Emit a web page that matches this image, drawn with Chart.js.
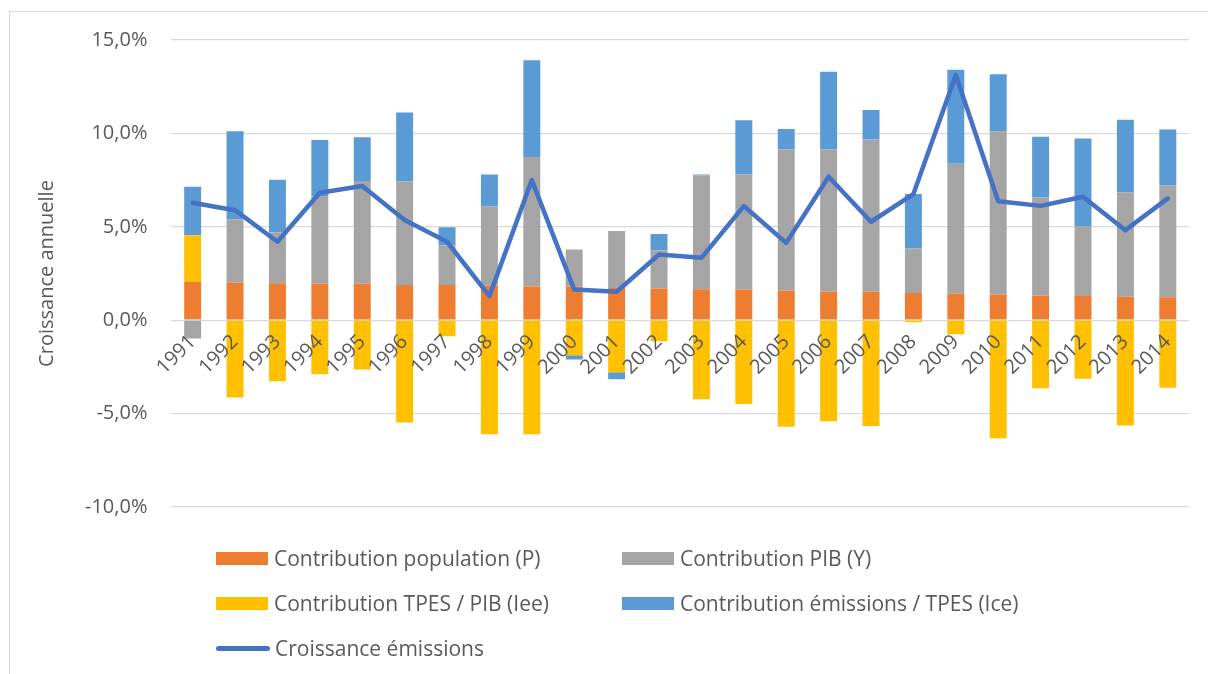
<!DOCTYPE html>
<html>
<head>
<meta charset="utf-8">
<script src="https://cdn.jsdelivr.net/npm/chart.js@4/dist/chart.umd.min.js"></script>
<style>
  body { margin: 0; background: #fff; font-family: "Open Sans", sans-serif; }
  #wrap { position: relative; width: 1208px; height: 674px; overflow: hidden; }
  #frame { position: absolute; left: 9px; top: 11px; width: 1300px; height: 800px; border: 1px solid #d9d9d9; }
  #chart { position: absolute; left: 0; top: 0; }
  #legend { position: absolute; left: 216px; top: 544px; width: 900px; }
  .item { position: absolute; display: flex; align-items: center; font-size: 21px; color: #595959; white-space: nowrap; height: 28px; }
  .swatch { width: 52px; height: 13px; margin-right: 6px; }
  .lineSwatch { width: 54px; height: 5px; border-radius: 3px; margin-right: 5px; }
</style>
</head>
<body>
<div id="wrap">
  <div id="frame"></div>
  <canvas id="chart" width="1208" height="674"></canvas>
  <div id="legend"></div>
</div>
<script>
const years = ["1991","1992","1993","1994","1995","1996","1997","1998","1999","2000","2001","2002",
  "2003","2004","2005","2006","2007","2008","2009","2010","2011","2012","2013","2014"];

// contributions in % points
const popContrib = [2.05, 2.0, 1.98, 1.95, 1.95, 1.89, 1.88, 1.84, 1.80, 1.79, 1.73, 1.70,
  1.66, 1.64, 1.57, 1.52, 1.52, 1.46, 1.41, 1.36, 1.32, 1.29, 1.25, 1.23];
const pibContrib = [-0.98, 3.41, 2.72, 4.66, 5.50, 5.54, 2.12, 4.25, 6.93, 2.00, 3.04, 2.05,
  6.09, 6.16, 7.57, 7.62, 8.16, 2.38, 6.97, 8.76, 5.25, 3.75, 5.59, 6.00];
const ieeContrib = [2.50, -4.14, -3.27, -2.89, -2.64, -5.48, -0.86, -6.11, -6.11, -1.88, -2.79, -1.13,
  -4.23, -4.48, -5.71, -5.41, -5.66, -0.11, -0.75, -6.32, -3.64, -3.13, -5.64, -3.61];
const iceContrib = [2.59, 4.71, 2.82, 3.03, 2.35, 3.69, 0.98, 1.71, 5.18, -0.23, -0.37, 0.86,
  0.05, 2.91, 1.09, 4.16, 1.57, 2.91, 5.03, 3.04, 3.25, 4.69, 3.89, 2.98];
const emissionsGrowth = [6.29, 5.89, 4.20, 6.82, 7.18, 5.36, 4.20, 1.29, 7.50, 1.64, 1.52, 3.52,
  3.34, 6.11, 4.14, 7.68, 5.27, 6.75, 13.13, 6.37, 6.12, 6.61, 4.82, 6.52];

const yTicks = [-10, -5, 0, 5, 10, 15];

const textColor = "#595959";
const fmt = v => v.toFixed(1).replace(".", ",") + "%";

const barCommon = { type: "bar", stack: "contrib", order: 1, categoryPercentage: 1, barPercentage: 0.4 };

const chart = new Chart(document.getElementById("chart"), {
  data: {
    labels: years,
    datasets: [
      { ...barCommon, label: "Contribution population (P)", data: popContrib, backgroundColor: "#ed7d31" },
      { ...barCommon, label: "Contribution PIB (Y)", data: pibContrib, backgroundColor: "#a5a5a5" },
      { ...barCommon, label: "Contribution TPES / PIB (Iee)", data: ieeContrib, backgroundColor: "#ffc000" },
      { ...barCommon, label: "Contribution émissions / TPES (Ice)", data: iceContrib, backgroundColor: "#5b9bd5" },
      {
        type: "line", stack: "line", order: 0, label: "Croissance émissions", data: emissionsGrowth,
        borderColor: "#4472c4", borderWidth: 4.5, pointRadius: 0, tension: 0,
        borderJoinStyle: "round", borderCapStyle: "round", fill: false
      }
    ]
  },
  options: {
    responsive: false,
    animation: false,
    layout: { padding: { left: 23, top: 40, right: 19, bottom: 167 } },
    plugins: { legend: { display: false }, tooltip: { enabled: false } },
    scales: {
      x: {
        position: { y: 0 },
        stacked: true,
        grid: { display: false },
        border: { display: false },
        ticks: {
          z: 1, autoSkip: false, minRotation: 45, maxRotation: 45, padding: 2,
          color: textColor, font: { family: "Open Sans", size: 20 }
        }
      },
      y: {
        stacked: true,
        min: -10, max: 15,
        afterBuildTicks: axis => { axis.ticks = yTicks.map(v => ({ value: v })); },
        grid: { color: "#d9d9d9", lineWidth: 1.3, drawTicks: false },
        border: { display: false },
        ticks: { padding: 24, color: textColor, font: { family: "Open Sans", size: 20 }, callback: v => fmt(v) },
        title: {
          display: true, text: "Croissance annuelle", color: textColor,
          font: { family: "Open Sans", size: 20 }, padding: { top: 12, bottom: 2 }
        }
      }
    }
  }
});

// legend in two columns, like the original
const legend = document.getElementById("legend");
chart.data.datasets.forEach((ds, i) => {
  const item = document.createElement("div");
  item.className = "item";
  item.style.left = (i % 2 ? 406 : 0) + "px";
  item.style.top = Math.floor(i / 2) * 45 + "px";
  const sw = document.createElement("span");
  if (ds.type === "line") {
    sw.className = "lineSwatch";
    sw.style.background = ds.borderColor;
  } else {
    sw.className = "swatch";
    sw.style.background = ds.backgroundColor;
  }
  item.appendChild(sw);
  item.appendChild(document.createTextNode(ds.label));
  legend.appendChild(item);
});
</script>
</body>
</html>
